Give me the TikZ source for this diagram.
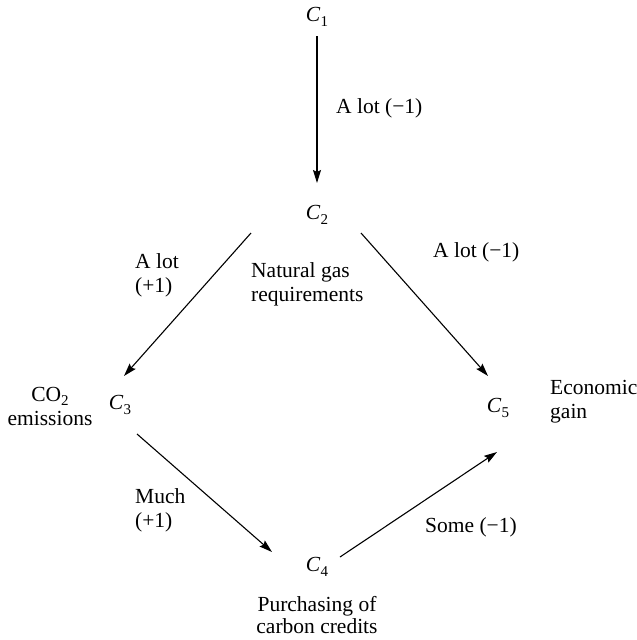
\documentclass[tikz,border=0pt]{standalone}
\usepackage{fontspec}
\setmainfont{Liberation Serif}
\usetikzlibrary{arrows.meta}
\newcommand\Cn[1]{\textit{C}\kern0.3pt\raisebox{-0.45ex}{\fontsize{15}{15}\selectfont #1}}
\newcommand\subtwo{\raisebox{-0.45ex}{\fontsize{15}{15}\selectfont 2}}
\begin{document}
\begin{tikzpicture}[x=1pt,y=-1pt,
  every node/.style={inner sep=0pt, font=\fontsize{21.5}{24}\selectfont},
  cnode/.style={},
  lab/.style={align=left, anchor=west},
  ctr/.style={align=center},
  arr/.style={-{Stealth[length=13pt,width=8pt,inset=2pt]}, line width=1.1pt}]
\useasboundingbox (0,0) rectangle (637,640);
% concept nodes
\node[cnode] (C1) at (317,17) {\Cn{1}};
\node[cnode] (C2) at (317,215) {\Cn{2}};
\node[cnode] (C3) at (120,405) {\Cn{3}};
\node[cnode] (C4) at (317,567) {\Cn{4}};
\node[cnode] (C5) at (498,408) {\Cn{5}};
% descriptions
\node[lab] (nat) at (251,284.5) {Natural gas\\requirements};
\node[ctr] (co2) at (50,406.5) {CO\subtwo\\emissions};
\node[lab] (econ) at (550,401.5) {Economic\\gain};
\node[ctr, font=\fontsize{21.5}{22}\selectfont] (purch) at (317,615) {Purchasing of\\carbon credits};
% edge labels
\node[lab] (l12) at (336,108) {A lot (−1)};
\node[lab] (l23) at (135,275.5) {A lot\\(+1)};
\node[lab] (l25) at (433,252) {A lot (−1)};
\node[lab] (l34) at (135,510.5) {Much\\(+1)};
\node[lab] (l45) at (425,527) {Some (−1)};
% connectors
\draw[arr] ([shift={(0,19)}]C1.center) -- ([shift={(0,-32)}]C2.center);
\draw[arr] ([shift={(-66,18)}]C2.center) -- ([shift={(4,-29)}]C3.center);
\draw[arr] ([shift={(44,18)}]C2.center) -- ([shift={(-10,-32)}]C5.center);
\draw[arr] ([shift={(17,29)}]C3.center) -- ([shift={(-45,-15)}]C4.center);
\draw[arr] ([shift={(23,-10)}]C4.center) -- ([shift={(-1,44)}]C5.center);
\end{tikzpicture}
\end{document}
